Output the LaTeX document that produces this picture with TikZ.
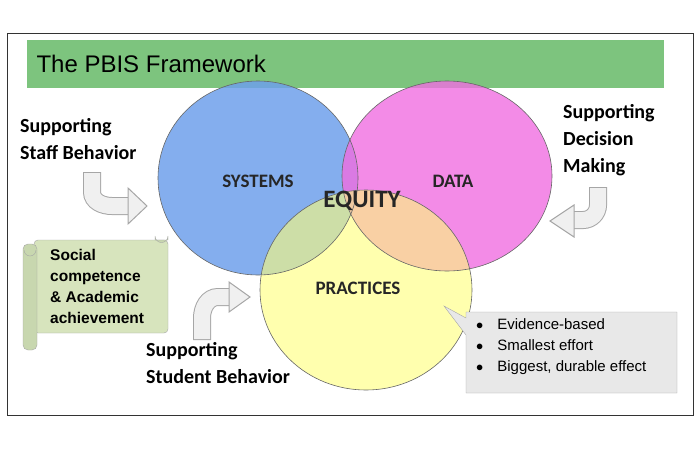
\documentclass[tikz,border=0pt]{standalone}
\usepackage{fontspec}
\setmainfont{Carlito}
\newfontfamily\arial{Liberation Sans}
\definecolor{cblue}{RGB}{110,160,235}
\definecolor{cpink}{RGB}{240,110,225}
\definecolor{cyel}{RGB}{255,255,120}
\definecolor{cgreen}{RGB}{125,196,126}
\definecolor{cscroll}{RGB}{215,228,189}
\definecolor{cscroll2}{RGB}{200,215,175}
\begin{document}
\begin{tikzpicture}[x=1pt,y=-1pt,
  lbl/.style={font=\fontsize{20}{27}\selectfont\bfseries,align=left,anchor=north west,inner sep=0},
  clbl/.style={font=\fontsize{19}{20}\selectfont\bfseries,text=black!85},
  shaft/.style={line width=18pt,draw=gray!70},
  shaftin/.style={line width=16pt,draw=gray!12},
  head/.style={draw=gray!70,fill=gray!12,line width=1pt,line join=miter}]
\useasboundingbox (0,0) rectangle (700,450);
\draw[line width=1pt,black!80] (7,33) rectangle (693,415);
\node[fill=cgreen,minimum width=637,minimum height=48,anchor=north west,inner sep=0] (title) at (27,40) {};
\node[anchor=west,font=\arial\fontsize{24}{26}\selectfont] at (33,64) {The PBIS Framework};
% circles
\fill[cblue,fill opacity=0.85] (258,178) ellipse [x radius=100,y radius=97];
\fill[cpink,fill opacity=0.8] (447,176) ellipse [x radius=105,y radius=95];
\fill[cyel,fill opacity=0.6] (366,290) ellipse [x radius=106,y radius=100];
\draw[black!60,line width=0.6pt] (258,178) ellipse [x radius=100,y radius=97];
\draw[black!60,line width=0.6pt] (447,176) ellipse [x radius=105,y radius=95];
\draw[black!60,line width=0.6pt] (366,290) ellipse [x radius=106,y radius=100];
\node[clbl] (sys) at (258,181) {SYSTEMS};
\node[clbl] (data) at (453,181) {DATA};
\node[clbl,font=\fontsize{25}{26}\selectfont\bfseries] (eq) at (362,201) {EQUITY};
\node[clbl] (prac) at (358,288) {PRACTICES};
% labels
\node[lbl] (l1) at (20,118) {Supporting\\Staff Behavior};
\node[lbl] (l2) at (563,104) {Supporting\\Decision\\Making};
\node[lbl] (l3) at (146,342) {Supporting\\Student Behavior};
% arrow left
\draw[shaft] (92,172) -- (92,192) to[out=-90,in=180] (112,206) -- (130,206);
\draw[shaftin] (92,173) -- (92,192) to[out=-90,in=180] (112,206) -- (130,206);
\draw[head] (128,188) -- (147,206) -- (128,224) -- cycle;
% arrow bottom
\draw[shaft] (202,340) -- (202,318) to[out=90,in=180] (218,297) -- (230,297);
\draw[shaftin] (202,339) -- (202,318) to[out=90,in=180] (218,297) -- (230,297);
\draw[head] (229,282) -- (250,297) -- (229,312) -- cycle;
% arrow right
\draw[shaft] (598,187) -- (598,205) to[out=-90,in=0] (583,220) -- (572,220);
\draw[shaftin] (598,188) -- (598,205) to[out=-90,in=0] (583,220) -- (572,220);
\draw[head] (574,205) -- (550,221) -- (574,237) -- cycle;
% scroll
\draw[gray!70,fill=cscroll,rounded corners=4] (34,240) rectangle (168,333);
\draw[gray!70,fill=cscroll2] (155,240) -- (155,236) arc[start angle=180,end angle=0,radius=6.5] -- (168,240) -- cycle;
\draw[gray!70,fill=cscroll2,rounded corners=5] (23,244) rectangle (37,350);
\draw[gray!70] (24,250) arc[start angle=180,end angle=0,radius=6];
\node[anchor=north west,inner sep=0,align=left,font=\arial\fontsize{15.5}{21}\selectfont\bfseries] (sc) at (50,249) {Social\\competence\\\& Academic\\achievement};
% callout
\draw[gray!70,fill=gray!18] (466,312) -- (466,318) -- (444,306) -- (466,335) -- (466,393) -- (677,393) -- (677,312) -- cycle;
\node[anchor=north west,inner sep=0,align=left,font=\arial\fontsize{15}{21}\selectfont] (bul) at (476,318)
 {$\bullet$\hspace{14pt}Evidence-based\\$\bullet$\hspace{14pt}Smallest effort\\$\bullet$\hspace{14pt}Biggest, durable effect};
\end{tikzpicture}
\end{document}
